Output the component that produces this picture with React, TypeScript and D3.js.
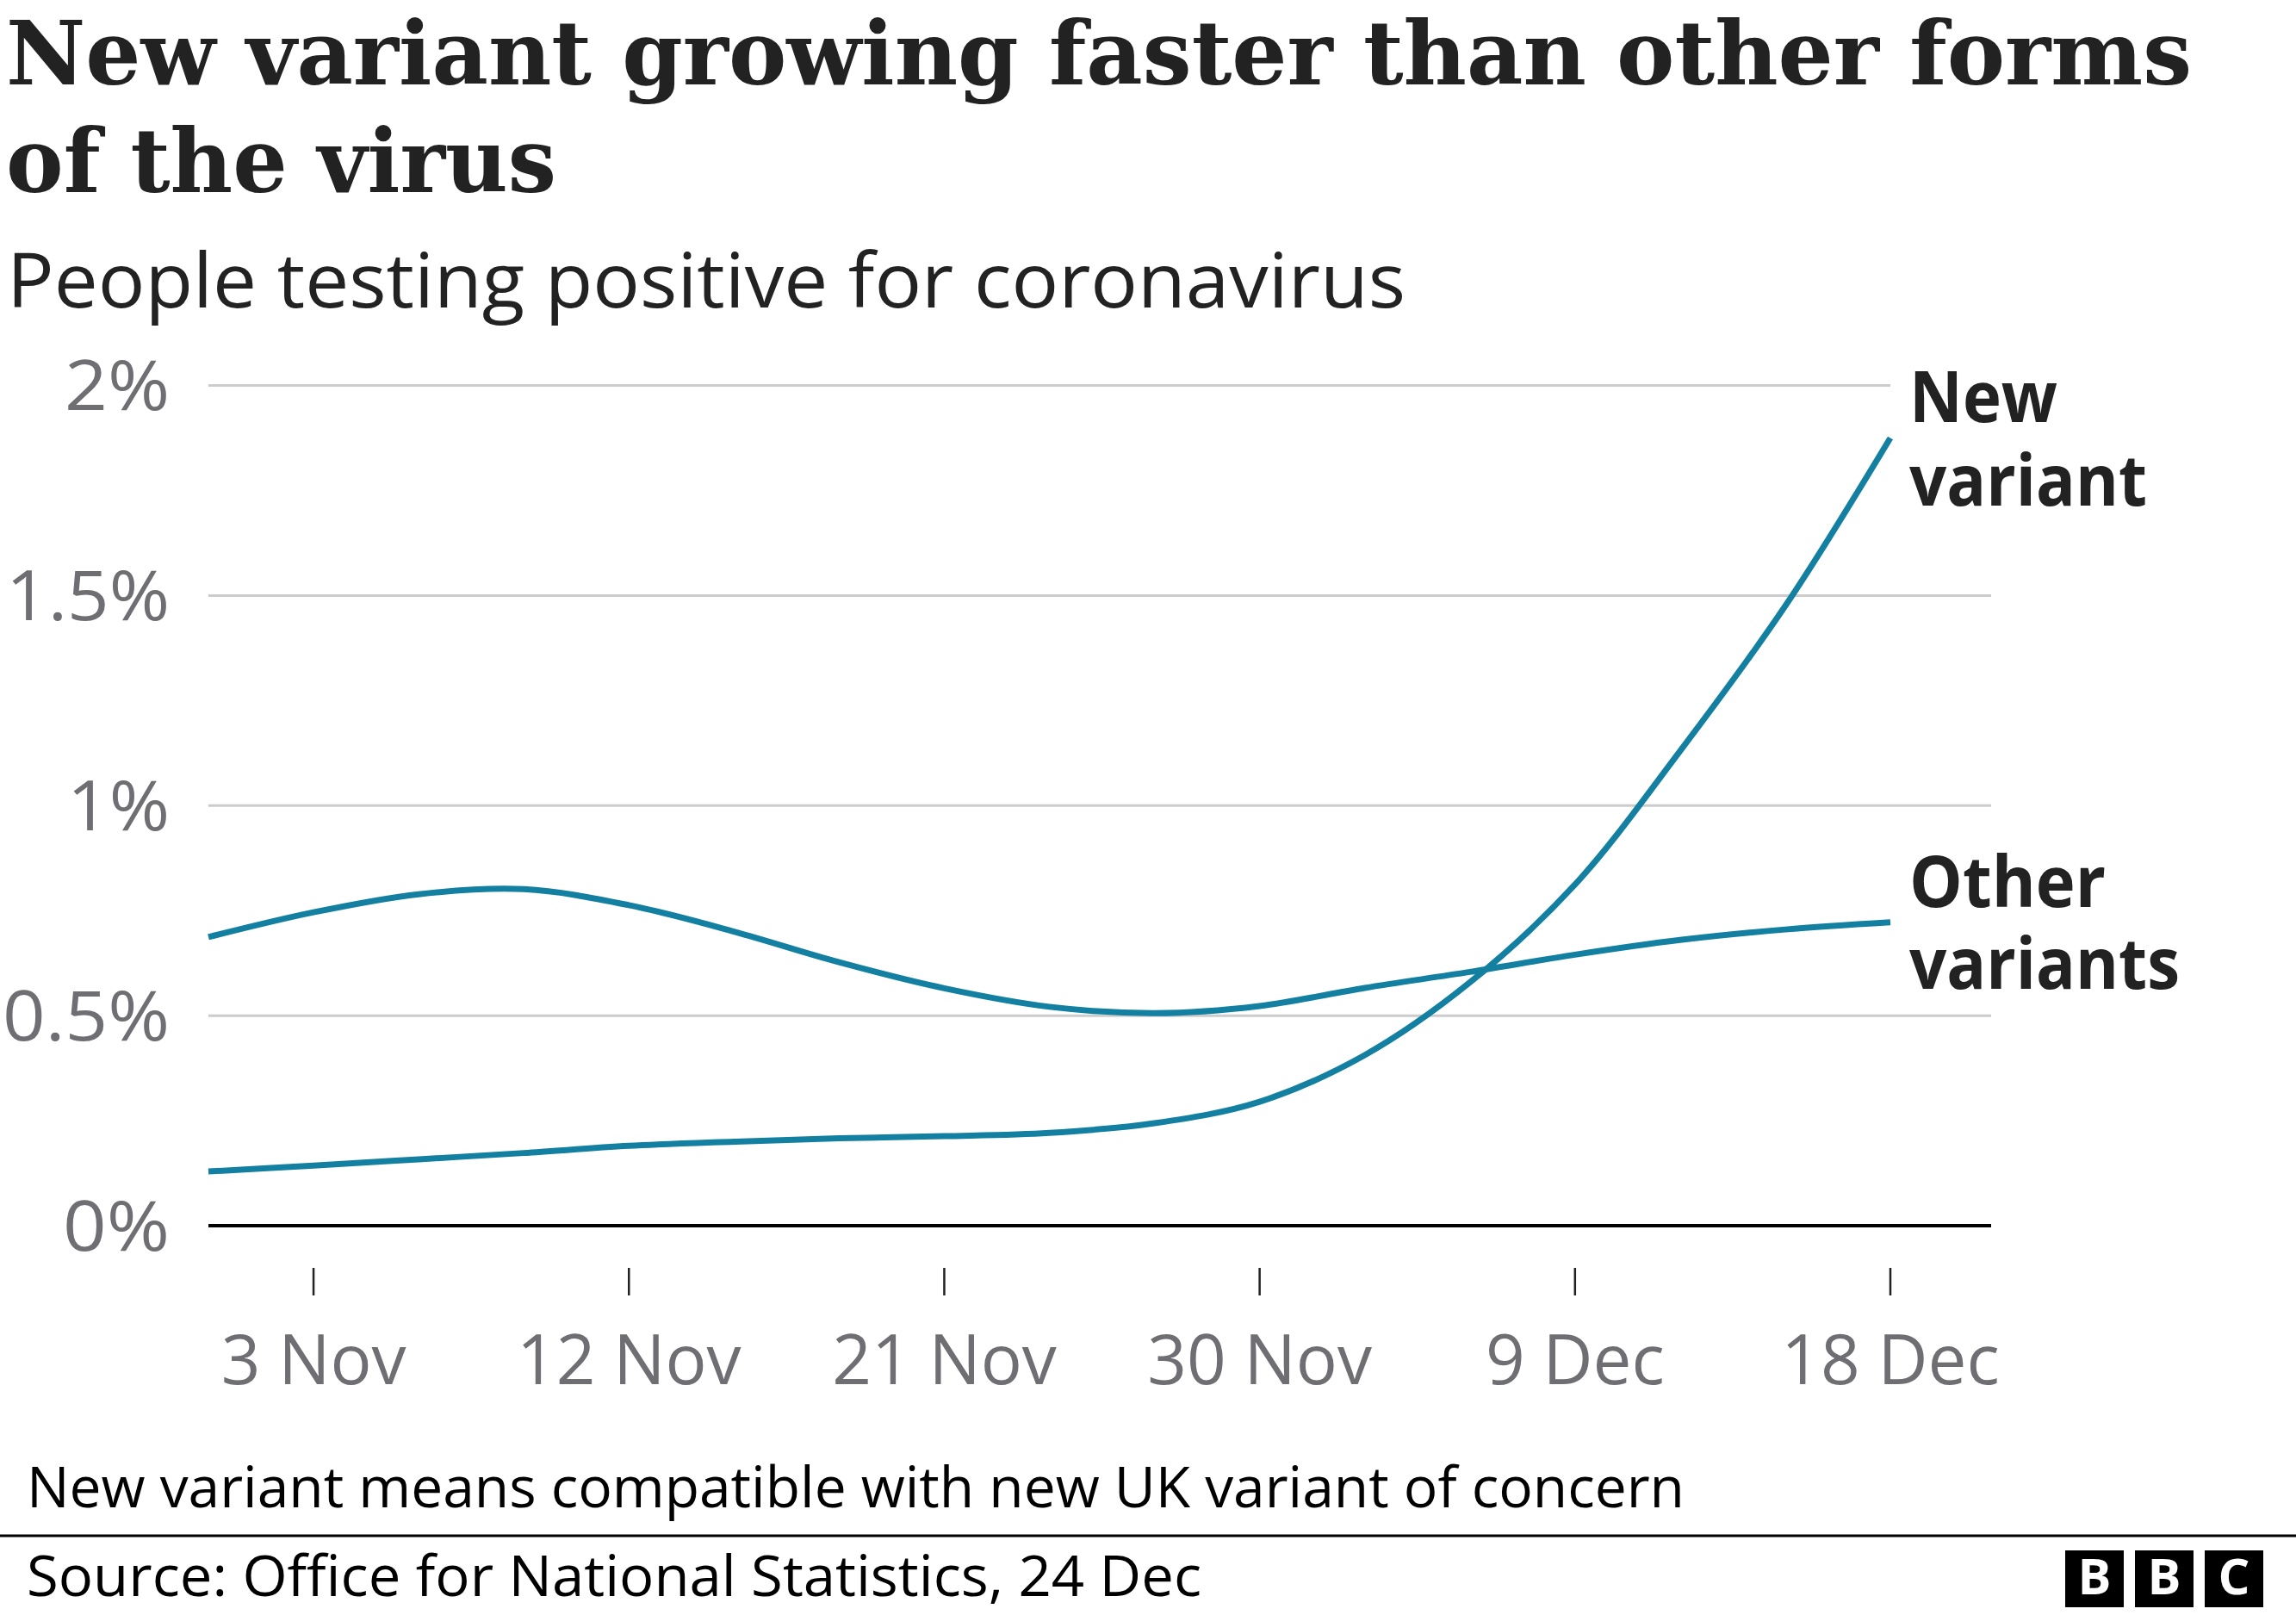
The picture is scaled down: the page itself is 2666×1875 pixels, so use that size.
import React from "react";
import * as d3 from "d3";

const dates = [
  "2020-10-31", "2020-11-03", "2020-11-06", "2020-11-09", "2020-11-12", "2020-11-15",
  "2020-11-18", "2020-11-21", "2020-11-24", "2020-11-27", "2020-11-30", "2020-12-03",
  "2020-12-06", "2020-12-09", "2020-12-12", "2020-12-15", "2020-12-18",
];
const newVariant = [0.129, 0.143, 0.158, 0.173, 0.19, 0.2, 0.208, 0.213, 0.221, 0.244, 0.295, 0.406, 0.579, 0.812, 1.13, 1.475, 1.875];
const otherVariants = [0.687, 0.746, 0.789, 0.801, 0.763, 0.7, 0.627, 0.565, 0.521, 0.506, 0.523, 0.566, 0.604, 0.645, 0.68, 0.705, 0.722];
const yTicks = [0, 0.5, 1, 1.5, 2];
const yTickLabels = ["0%", "0.5%", "1%", "1.5%", "2%"];
const xTicks = ["2020-11-03", "2020-11-12", "2020-11-21", "2020-11-30", "2020-12-09", "2020-12-18"];
const xTickLabels = ["3 Nov", "12 Nov", "21 Nov", "30 Nov", "9 Dec", "18 Dec"];
const titleLines = ["New variant growing faster than other forms", "of the virus"];
const subtitle = "People testing positive for coronavirus";
const note = "New variant means compatible with new UK variant of concern";
const source = "Source: Office for National Statistics, 24 Dec";

const W = 2666;
const H = 1875;
const SANS = "'Open Sans', 'Noto Sans', sans-serif";
const SERIF = "'DejaVu Serif', serif";
const TEAL = "#1380a1";
const DARK = "#222222";
const GREY = "#6e6e73";
const yLabelWidths = [124, 194, 119, 190, 122];

const parse = (s: string) => {
  const [y, m, d] = s.split("-").map(Number);
  return new Date(Date.UTC(y, m - 1, d));
};

export default function App() {
  const plotLeft = 242;
  const plotRight = 2312;
  const x = d3.scaleUtc().domain([parse(dates[0]), parse(dates[dates.length - 1])]).range([plotLeft, 2195]);
  const y = d3.scaleLinear().domain([0, 2]).range([1423, 447.5]);

  const line = d3
    .line<number>()
    .x((_, i) => x(parse(dates[i])))
    .y((v) => y(v))
    .curve(d3.curveCatmullRom.alpha(0.5));

  const lastX = x(parse(dates[dates.length - 1]));
  const labelX = 2217;

  return (
    <svg width={W} height={H} viewBox={`0 0 ${W} ${H}`} style={{ position: "absolute", left: 0, top: 0, background: "#fff" }}>
      <rect x={0} y={0} width={W} height={H} fill="#fff" />
      {/* Title */}
      <text x={7} y={98} fontFamily={SERIF} fontWeight="bold" fontSize={103} fill={DARK} textLength={2538} lengthAdjust="spacingAndGlyphs">
        {titleLines[0]}
      </text>
      <text x={7} y={223} fontFamily={SERIF} fontWeight="bold" fontSize={103} fill={DARK} textLength={639} lengthAdjust="spacingAndGlyphs">
        {titleLines[1]}
      </text>
      <text x={8} y={357} fontFamily={SANS} fontSize={88} fill={DARK} textLength={1624} lengthAdjust="spacingAndGlyphs">
        {subtitle}
      </text>

      {/* Gridlines */}
      {yTicks.map((t, i) =>
        t === 0 ? null : (
          <line
            key={"g" + i}
            x1={plotLeft}
            x2={t === 2 ? lastX : plotRight}
            y1={y(t)}
            y2={y(t)}
            stroke="#cccccc"
            strokeWidth={3}
          />
        )
      )}
      {/* Y labels */}
      {yTicks.map((t, i) => (
        <text
          key={"yl" + i}
          x={197 - yLabelWidths[i]}
          y={y(t) + 28.5}
          fontFamily={SANS}
          fontSize={80}
          fill={GREY}
          textLength={yLabelWidths[i]}
          lengthAdjust="spacingAndGlyphs"
        >
          {yTickLabels[i]}
        </text>
      ))}

      {/* Lines */}
      <path d={line(otherVariants) || ""} fill="none" stroke={TEAL} strokeWidth={7} />
      <path d={line(newVariant) || ""} fill="none" stroke={TEAL} strokeWidth={7} />

      {/* Baseline */}
      <line x1={plotLeft} x2={plotRight} y1={y(0)} y2={y(0)} stroke="#000" strokeWidth={4} />

      {/* X ticks */}
      {xTicks.map((d, i) => {
        const xx = x(parse(d));
        return (
          <g key={"xt" + i}>
            <line x1={xx} x2={xx} y1={1472} y2={1504} stroke="#222" strokeWidth={2.5} />
            <text x={xx} y={1607} textAnchor="middle" fontFamily={SANS} fontSize={80} fill={GREY}>
              {xTickLabels[i]}
            </text>
          </g>
        );
      })}

      {/* Line labels */}
      <text x={labelX} y={490} fontFamily={SANS} fontWeight="bold" fontSize={82} fill={DARK} textLength={172} lengthAdjust="spacingAndGlyphs">New</text>
      <text x={labelX} y={587} fontFamily={SANS} fontWeight="bold" fontSize={82} fill={DARK} textLength={276} lengthAdjust="spacingAndGlyphs">variant</text>
      <text x={labelX} y={1053} fontFamily={SANS} fontWeight="bold" fontSize={82} fill={DARK} textLength={228} lengthAdjust="spacingAndGlyphs">Other</text>
      <text x={labelX} y={1148} fontFamily={SANS} fontWeight="bold" fontSize={82} fill={DARK} textLength={314} lengthAdjust="spacingAndGlyphs">variants</text>

      {/* Footer */}
      <text x={31} y={1750} fontFamily={SANS} fontSize={66} fill="#000" textLength={1925} lengthAdjust="spacingAndGlyphs">
        {note}
      </text>
      <line x1={0} x2={W} y1={1783} y2={1783} stroke="#000" strokeWidth={3} />
      <text x={31} y={1853} fontFamily={SANS} fontSize={66} fill="#000" textLength={1364} lengthAdjust="spacingAndGlyphs">
        {source}
      </text>

      {/* BBC logo */}
      {["B", "B", "C"].map((c, i) => (
        <g key={"bbc" + i}>
          <rect x={2398 + i * 81} y={1800} width={68} height={66} fill="#000" />
          <text x={2398 + i * 81 + 34} y={1851} textAnchor="middle" fontFamily={SANS} fontWeight="bold" fontSize={58} fill="#fff">
            {c}
          </text>
        </g>
      ))}
    </svg>
  );
}
